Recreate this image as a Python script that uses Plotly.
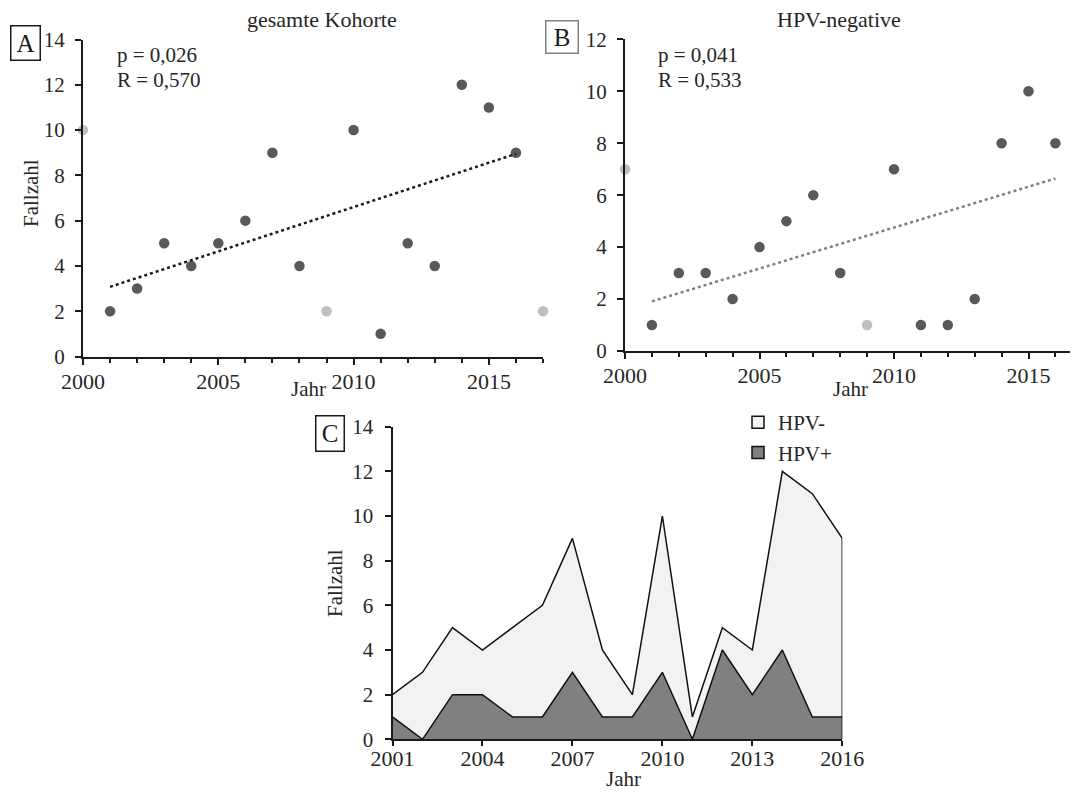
import numpy as np
import plotly.graph_objects as go

# ---------------- data ----------------
years_a = list(range(2000, 2018))
cases_total = [10, 2, 3, 5, 4, 5, 6, 9, 4, 2, 10, 1, 5, 4, 12, 11, 9, 2]
excluded_a = [2000, 2009, 2017]

years_b = list(range(2000, 2017))
cases_hpv_neg_b = [7, 1, 3, 3, 2, 4, 5, 6, 3, 1, 7, 1, 1, 2, 8, 10, 8]
excluded_b = [2000, 2009]

years_c = list(range(2001, 2017))
hpv_pos = [1, 0, 2, 2, 1, 1, 3, 1, 1, 3, 0, 4, 2, 4, 1, 1]
hpv_neg = [1, 3, 3, 2, 4, 5, 6, 3, 1, 7, 1, 1, 2, 8, 10, 8]

title_a = "gesamte Kohorte"
title_b = "HPV-negative"
stats_a = ["p = 0,026", "R = 0,570"]
stats_b = ["p = 0,041", "R = 0,533"]
x_ticks_ab = [2000, 2005, 2010, 2015]
x_ticks_c = [2001, 2004, 2007, 2010, 2013, 2016]

# ---------------- styling ----------------
FONT = "Liberation Serif"
TXT = "#262626"
DARK = "#595959"
LIGHT = "#bfbfbf"
AX = "#1a1a1a"
W, H = 1078, 792
OX, OY = 8, 8  # page body margin offset


def px(x):
    return (x - OX) / W


def py(y):
    return 1 - (y - OY) / H


def split(years, vals, excl):
    inc = [(x, v) for x, v in zip(years, vals) if x not in excl]
    exc = [(x, v) for x, v in zip(years, vals) if x in excl]
    return inc, exc


fig = go.Figure()

# ---- Panel A ----
inc, exc = split(years_a, cases_total, excluded_a)
fig.add_trace(go.Scatter(x=[p[0] for p in exc], y=[p[1] for p in exc], mode="markers",
                         marker=dict(size=10.5, color=LIGHT), xaxis="x", yaxis="y",
                         showlegend=False, cliponaxis=False))
fig.add_trace(go.Scatter(x=[p[0] for p in inc], y=[p[1] for p in inc], mode="markers",
                         marker=dict(size=10.5, color=DARK), xaxis="x", yaxis="y",
                         showlegend=False, cliponaxis=False))
xa = np.array([p[0] for p in inc], float)
ya = np.array([p[1] for p in inc], float)
ka, da = np.polyfit(xa, ya, 1)
xt = np.array([xa.min(), xa.max()])
fig.add_trace(go.Scatter(x=xt, y=ka * xt + da, mode="lines",
                         line=dict(color="#1a1a1a", width=2.5, dash="dot"),
                         xaxis="x", yaxis="y", showlegend=False))

# ---- Panel B ----
inc, exc = split(years_b, cases_hpv_neg_b, excluded_b)
fig.add_trace(go.Scatter(x=[p[0] for p in exc], y=[p[1] for p in exc], mode="markers",
                         marker=dict(size=10.5, color=LIGHT), xaxis="x2", yaxis="y2",
                         showlegend=False, cliponaxis=False))
fig.add_trace(go.Scatter(x=[p[0] for p in inc], y=[p[1] for p in inc], mode="markers",
                         marker=dict(size=10.5, color=DARK), xaxis="x2", yaxis="y2",
                         showlegend=False, cliponaxis=False))
xb = np.array([p[0] for p in inc], float)
yb = np.array([p[1] for p in inc], float)
kb, db = np.polyfit(xb, yb, 1)
xt = np.array([xb.min(), xb.max()])
fig.add_trace(go.Scatter(x=xt, y=kb * xt + db, mode="lines",
                         line=dict(color="#7f7f7f", width=2.5, dash="dot"),
                         xaxis="x2", yaxis="y2", showlegend=False))

# ---- Panel C ----
POS_FILL = "#808080"
NEG_FILL = "#f2f2f2"
fig.add_trace(go.Scatter(x=years_c, y=hpv_pos, mode="lines", name="HPV+",
                         stackgroup="one", fillcolor=POS_FILL,
                         line=dict(color="#111111", width=1.5),
                         xaxis="x3", yaxis="y3", showlegend=False))
fig.add_trace(go.Scatter(x=years_c, y=hpv_neg, mode="lines", name="HPV-",
                         stackgroup="one", fillcolor=NEG_FILL,
                         line=dict(color="#111111", width=1.5),
                         xaxis="x3", yaxis="y3", showlegend=False))
# right closing edge of the stacked area
last_total = hpv_pos[-1] + hpv_neg[-1]
fig.add_trace(go.Scatter(x=[years_c[-1], years_c[-1]], y=[0, last_total], mode="lines",
                         line=dict(color="#111111", width=1.5), xaxis="x3", yaxis="y3",
                         showlegend=False, hoverinfo="skip", cliponaxis=False))
# legend entries (square swatches)
fig.add_trace(go.Scatter(x=[None], y=[None], mode="markers", name="HPV-",
                         marker=dict(symbol="square", size=12, color=NEG_FILL,
                                     line=dict(color="#111111", width=1.5)),
                         xaxis="x3", yaxis="y3"))
fig.add_trace(go.Scatter(x=[None], y=[None], mode="markers", name="HPV+",
                         marker=dict(symbol="square", size=12, color=POS_FILL,
                                     line=dict(color="#111111", width=1.5)),
                         xaxis="x3", yaxis="y3"))

axis_common = dict(showline=True, linecolor=AX, linewidth=2, showgrid=False,
                   zeroline=False, ticks="outside", tickcolor=AX, tickwidth=2,
                   ticklen=6, automargin=False,
                   tickfont=dict(family=FONT, size=21, color=TXT))
xfont = dict(family=FONT, size=22, color=TXT)
minor = dict(dtick=1, ticks="outside", ticklen=4, tickcolor=AX, tickwidth=2)

fig.update_layout(
    template="none",
    width=W, height=H, margin=dict(l=0, r=0, t=0, b=0, autoexpand=False),
    paper_bgcolor="white", plot_bgcolor="white",
    font=dict(family=FONT, color=TXT),
    xaxis=dict(axis_common, domain=[px(83), px(543)], range=[2000, 2017],
               tickvals=x_ticks_ab, anchor="y", tickfont=xfont, minor=minor,
               ticklabelstandoff=-2),
    yaxis=dict(axis_common, domain=[py(356.5), py(39.5)], range=[0, 14], dtick=2, anchor="x",
               ticklabelstandoff=6),
    xaxis2=dict(axis_common, domain=[px(625), 1.0],
                range=[2000, 2000 + (W + OX - 625) / 26.9],
                tickvals=x_ticks_ab, anchor="y2", tickfont=xfont, minor=minor,
                ticklabelstandoff=-2),
    yaxis2=dict(axis_common, domain=[py(351), py(39.3)], range=[0, 12], dtick=2, anchor="x2",
                ticklabelstandoff=6),
    xaxis3=dict(axis_common, domain=[px(392.5), px(842.3)], range=[2001, 2016],
                tickvals=x_ticks_c, anchor="y3", tickfont=xfont, ticklen=5,
                ticklabelstandoff=-7),
    yaxis3=dict(axis_common, domain=[py(739.3), py(426.7)], range=[0, 14], dtick=2, anchor="x3",
                ticklabelstandoff=7),
    legend=dict(x=px(738), y=py(402), xanchor="left", yanchor="top", traceorder="normal",
                font=dict(family=FONT, size=21, color=TXT), itemwidth=30,
                tracegroupgap=0, bgcolor="rgba(0,0,0,0)"),
    showlegend=True,
)

ann = []


def text(x, y, s, size=21, angle=0, xanchor="center"):
    ann.append(dict(x=px(x), y=py(y), xref="paper", yref="paper", text=s, showarrow=False,
                    xanchor=xanchor, yanchor="middle", textangle=angle,
                    font=dict(family=FONT, size=size, color=TXT)))


def box(x, y, s, border, w, h):
    ann.append(dict(x=px(x), y=py(y), xref="paper", yref="paper", text=s, showarrow=False,
                    xanchor="center", yanchor="middle", width=w, height=h, borderpad=0,
                    bordercolor=border, borderwidth=1.5, bgcolor="white",
                    font=dict(family=FONT, size=25, color="#1a1a1a")))


text(322, 20, title_a, size=22)
text(839, 20, title_b, size=22)
text(115, 55, stats_a[0], xanchor="left")
text(115, 80, stats_a[1], xanchor="left")
text(656, 55, stats_b[0], xanchor="left")
text(656, 80, stats_b[1], xanchor="left")
text(31, 193, "Fallzahl", angle=-90)
text(335, 583, "Fallzahl", angle=-90)
text(308, 389, "Jahr")
text(850, 389, "Jahr")
text(623, 779, "Jahr")
box(25.5, 43, "A", "#1a1a1a", 28, 33)
box(562, 37, "B", "#808080", 31, 31)
box(330, 433.5, "C", "#1a1a1a", 27, 34)

fig.update_layout(annotations=ann)
fig.write_html("out.html")
